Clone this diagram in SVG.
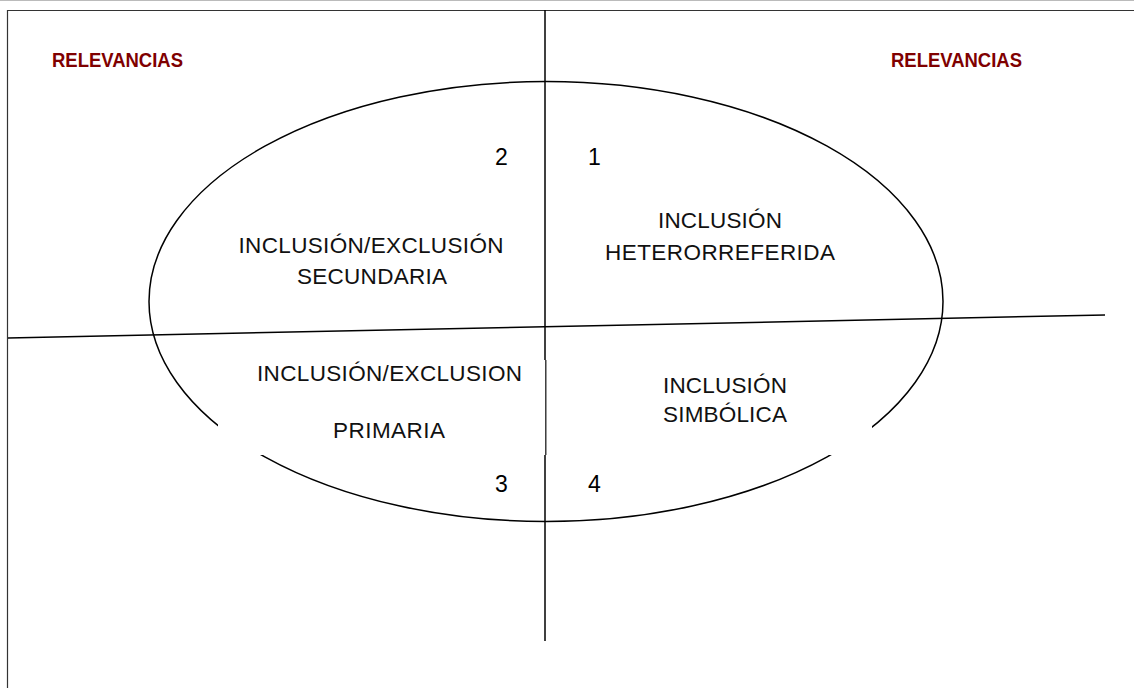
<svg xmlns="http://www.w3.org/2000/svg" width="1134" height="688" viewBox="0 0 1134 688">
<style>
.ln{stroke:#000;fill:none;stroke-width:1.5}
.rel{font-family:"Liberation Sans",Arial,sans-serif;font-weight:bold;font-size:19.5px;fill:#7f0000}
.lbl{font-family:"Liberation Sans",Arial,sans-serif;font-size:22.5px;fill:#111;text-anchor:middle}
.num{font-family:"Liberation Sans",Arial,sans-serif;font-size:23px;fill:#000}
</style>
<rect width="1134" height="688" fill="#fff"/>
<line x1="0" y1="0.5" x2="1134" y2="0.5" stroke="#bbb" stroke-width="1"/>
<line x1="7" y1="10.5" x2="1134" y2="10.5" stroke="#333" stroke-width="1.2"/>
<line x1="7.5" y1="10" x2="7.5" y2="688" stroke="#333" stroke-width="1.2"/>
<g id="connectors">
<ellipse class="ln" cx="546" cy="301.5" rx="397" ry="220"/>
<line class="ln" x1="545" y1="10" x2="545" y2="641" stroke-width="2"/>
<line class="ln" x1="8" y1="338" x2="1105" y2="315"/>
<rect x="218" y="360" width="327" height="95" fill="#fff"/>
<rect x="546" y="360" width="326" height="95" fill="#fff"/>
<line x1="546.5" y1="360" x2="546.5" y2="455" stroke="#999" stroke-width="1"/>
</g>
<g id="relevancias-left"><text class="rel" x="52" y="67" textLength="131" lengthAdjust="spacingAndGlyphs">RELEVANCIAS</text></g>
<g id="relevancias-right"><text class="rel" x="891" y="67" textLength="131" lengthAdjust="spacingAndGlyphs">RELEVANCIAS</text></g>
<g id="q2">
<text class="num" x="495" y="165">2</text>
<text class="lbl" x="371" y="253" textLength="265">INCLUSIÓN/EXCLUSIÓN</text>
<text class="lbl" x="372" y="284" textLength="150">SECUNDARIA</text>
</g>
<g id="q1">
<text class="num" x="588" y="165">1</text>
<text class="lbl" x="720" y="228" textLength="124">INCLUSIÓN</text>
<text class="lbl" x="720" y="260" textLength="230">HETERORREFERIDA</text>
</g>
<g id="q3">
<text class="num" x="495" y="492">3</text>
<text class="lbl" x="389.5" y="381" textLength="265">INCLUSIÓN/EXCLUSION</text>
<text class="lbl" x="389" y="438" textLength="112">PRIMARIA</text>
</g>
<g id="q4">
<text class="num" x="588" y="492">4</text>
<text class="lbl" x="725" y="393" textLength="124">INCLUSIÓN</text>
<text class="lbl" x="725" y="422" textLength="124">SIMBÓLICA</text>
</g>
</svg>
